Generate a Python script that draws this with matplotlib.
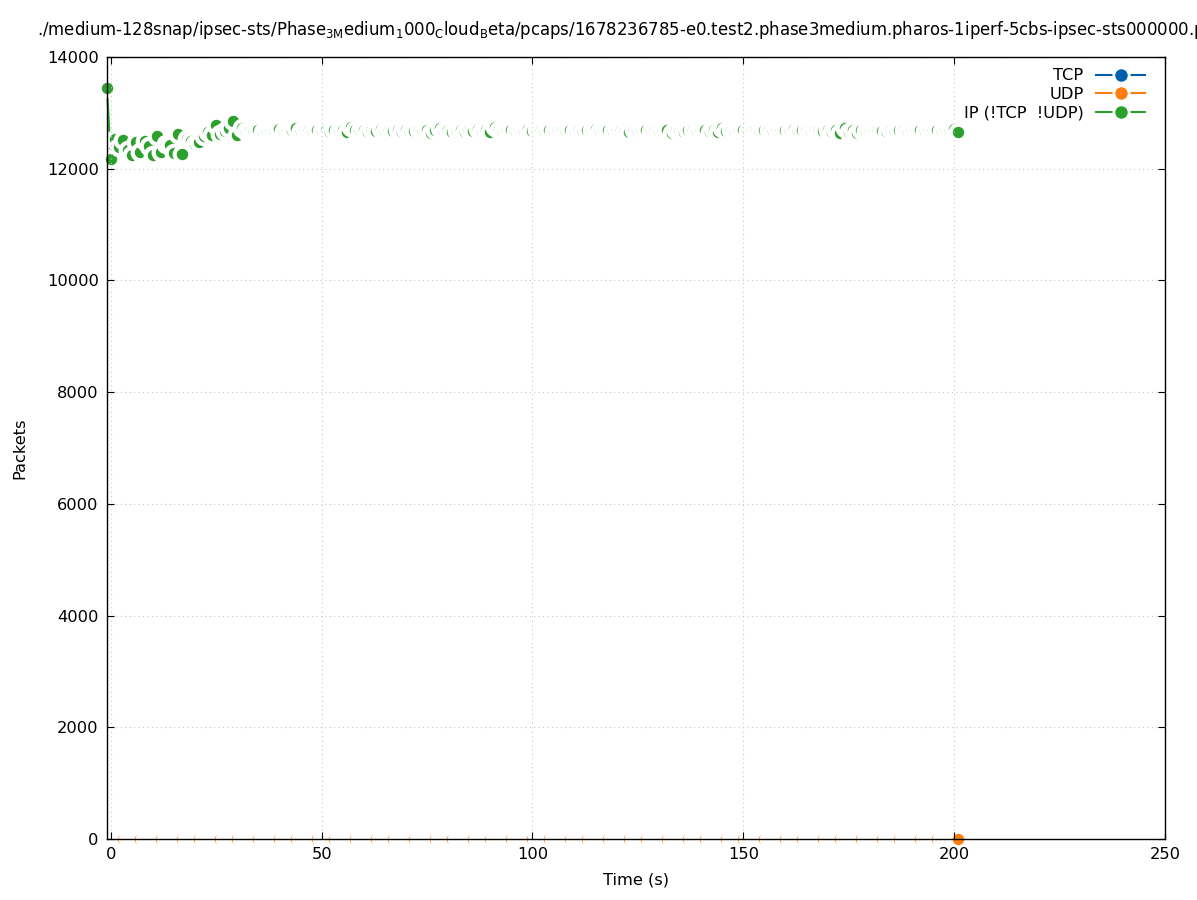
import matplotlib
matplotlib.use("Agg")
from matplotlib import pyplot as plt
from matplotlib.lines import Line2D

plt.rcParams['font.family'] = ['DejaVu Sans']
plt.rcParams['mathtext.fontset'] = 'dejavusans'

titulo = (r"./medium-128snap/ipsec-sts/Phase$_{\mathrm{3M}}$edium$_{\mathrm{1}}$000$_{\mathrm{C}}$"
          r"loud$_{\mathrm{B}}$eta/pcaps/1678236785-e0.test2.phase3medium.pharos-1iperf-5cbs-ipsec-sts000000.pcap")

# tiempo (s)
tiempo = [-0.9] + list(range(0, 202))

# paquetes IP (!TCP !UDP)
ip = [13440, 12170,
      12540, 12380, 12520, 12330, 12250, 12470, 12300, 12500, 12400, 12240,
      12580, 12300, 12450, 12420, 12280, 12620, 12270, 12540, 12500, 12450,
      12480, 12580, 12650, 12600, 12780, 12620, 12680, 12720, 12850, 12600,
      12720,
      12680, 12690, 12670, 12700, 12660, 12680, 12700, 12690, 12710, 12680,
      12700, 12690, 12720, 12680, 12690, 12700, 12670, 12690, 12680, 12700,
      12660, 12690, 12680, 12700, 12660, 12740, 12690, 12680, 12700, 12660,
      12700, 12680, 12710, 12670, 12690, 12680, 12700, 12660, 12690, 12650,
      12680, 12700, 12670, 12690, 12640, 12700, 12720, 12680, 12690, 12650,
      12680, 12700, 12660, 12690, 12680, 12710, 12670, 12690, 12650, 12750,
      12690, 12680, 12700, 12690, 12680, 12700, 12690, 12710, 12680, 12690,
      12700, 12670, 12690, 12680, 12700, 12690, 12680, 12700, 12670, 12690,
      12680, 12700, 12690, 12710, 12680, 12690, 12700, 12680, 12690, 12700,
      12680, 12650, 12690, 12680, 12700, 12690, 12670, 12690, 12680, 12700,
      12690, 12640, 12690, 12680, 12660, 12690, 12700, 12680, 12690, 12700,
      12660, 12700, 12650, 12720, 12680, 12690, 12680, 12700, 12690, 12680,
      12700, 12690, 12680, 12700, 12690, 12680, 12700, 12690, 12700, 12690,
      12710, 12680, 12700, 12690, 12680, 12690, 12700, 12680, 12690, 12660,
      12690, 12640, 12720, 12650, 12700, 12640, 12690, 12670, 12690, 12700,
      12690, 12680, 12650, 12700, 12680, 12690, 12700, 12680, 12690, 12700,
      12690, 12680, 12700, 12690, 12700, 12680, 12690, 12700, 12710, 12655]

tcp = [0] * len(tiempo)
udp = [0] * len(tiempo)

series = [("TCP", tcp, "#0060ad"),
          ("UDP", udp, "#ff7f0e"),
          ("IP (!TCP  !UDP)", ip, "#2ca02c")]

fig = plt.figure(figsize=(11.97, 9.0), dpi=100)
ax = fig.add_axes([107 / 1197, 61 / 900, 1058 / 1197, 782 / 900])

manejadores = []
for nombre, datos, color in series:
    ax.plot(tiempo, datos, color=color, linewidth=1.5, zorder=1, clip_on=False)
    ax.scatter(tiempo, datos, s=127, c=color, edgecolors="white",
               linewidths=3.0, zorder=1.5, clip_on=False)
    manejadores.append(Line2D([], [], color=color, linewidth=1.5, marker="o",
                              markersize=11, markeredgecolor="white",
                              markeredgewidth=2.0, label=nombre))

ax.set_xlim(-0.9, 250)
ax.set_ylim(0, 14000)
ax.set_xticks(range(0, 251, 50))
ax.set_yticks(range(0, 14001, 2000))
ax.tick_params(direction="in", top=True, right=True, length=5, labelsize=11.7, pad=6)
ax.grid(True, linestyle=(0, (1, 3)), color="#c8c8c8", linewidth=0.8)
for s in ax.spines.values():
    s.set_linewidth(1.0)
    s.set_zorder(3)

ax.set_xlabel("Time (s)", fontsize=11.7, labelpad=7)
ax.set_ylabel("Packets", fontsize=11.7, labelpad=14)
# el titulo se corta a la derecha igual que en el original
fig.text(636 / 1197, 1 - 30 / 900, titulo, ha="center", va="center", fontsize=11.9)

ax.legend(handles=manejadores, loc="upper right", frameon=False, markerfirst=False,
          fontsize=11.7, handlelength=3.0, handletextpad=0.8, labelspacing=0.22,
          borderaxespad=0.3, bbox_to_anchor=(0.992, 1.0))

fig.savefig("out.png", dpi=100)
